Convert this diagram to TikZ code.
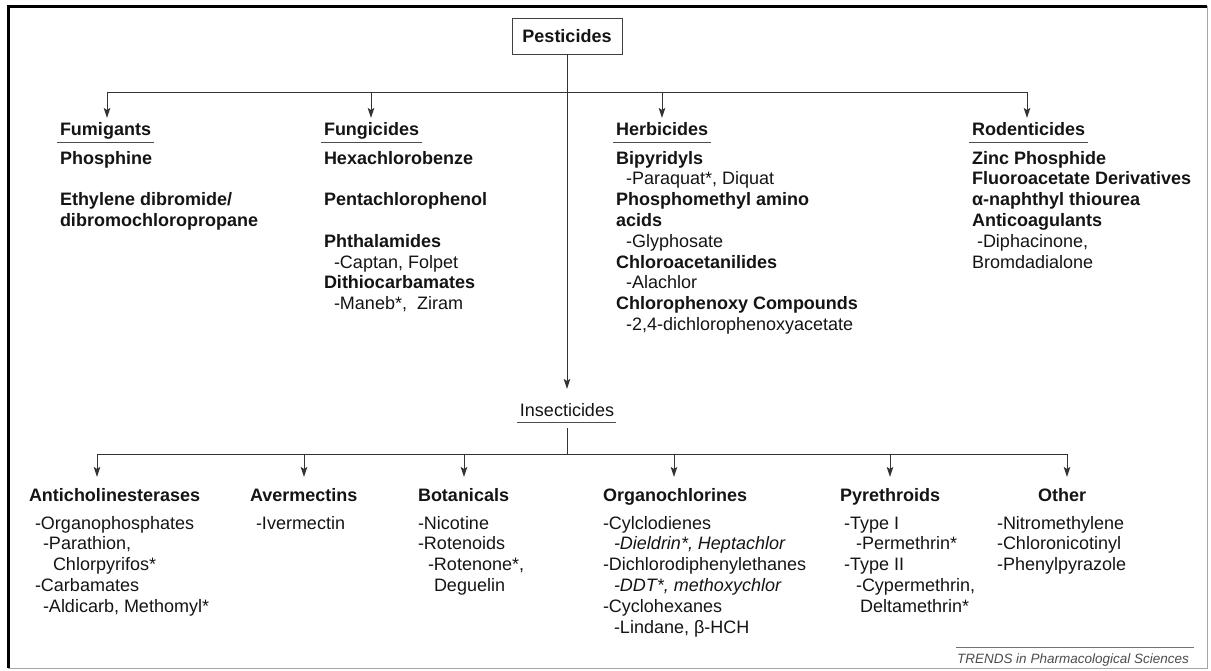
\documentclass[tikz,border=0pt]{standalone}
\usepackage{fontspec}
\setmainfont{Liberation Sans}
\usetikzlibrary{arrows.meta}
\newcommand\fs{\rule{0pt}{14pt}}
\begin{document}
\begin{tikzpicture}[x=1pt,y=-1pt,
  every node/.style={inner sep=0pt, outer sep=0pt, text=black!92},
  txt/.style={font=\fontsize{18}{20.8}\selectfont},
  hd/.style={anchor=base west, font=\fontsize{18}{20.8}\selectfont\bfseries},
  blk/.style={anchor=north west, align=left, font=\fontsize{18}{20.8}\selectfont},
  ln/.style={draw=black!80, line width=1pt},
  arr/.style={ln, -{Stealth[length=10pt,width=6.5pt,inset=2pt]}},
  ul/.style={draw=black!70, line width=1pt},
]
\useasboundingbox (0,0) rectangle (1211,670);
% frame
\draw[black!35, line width=1pt] (1207,6) -- (1207,668) -- (8,668);
\draw[black, line width=3pt] (8,668) -- (8,6) -- (1207,6);

% root
\node[draw=black!75, line width=1pt, minimum width=110pt, minimum height=36pt,
      font=\fontsize{18}{20.8}\selectfont\bfseries] (pest) at (567,36) {Pesticides};

% top bus
\coordinate (b1) at (107,92);
\coordinate (b2) at (371,92);
\coordinate (b3) at (662,92);
\coordinate (b4) at (1027,92);
\draw[ln] (b1) -- (b4);

% top headings
\node[hd] (fum) at (60,135) {Fumigants};
\node[hd] (fun) at (324,135) {Fungicides};
\node[hd] (her) at (616,135) {Herbicides};
\node[hd] (rod) at (972,135) {Rodenticides};
\foreach \n in {fum,fun,her,rod}{
  \draw[ul] ([shift={(-3pt,-7pt)}]\n.base west) -- ([shift={(3pt,-7pt)}]\n.base east);
}
\draw[arr, shorten >=4pt] (b1) -- (b1 |- fum.north);
\draw[arr, shorten >=4pt] (b2) -- (b2 |- fun.north);
\draw[arr, shorten >=4pt] (b3) -- (b3 |- her.north);
\draw[arr, shorten >=4pt] (b4) -- (b4 |- rod.north);

% top blocks
\node[blk] (fumL) at (60,150) {\fs\textbf{Phosphine}\\[20.8pt]
  \textbf{Ethylene dibromide/}\\
  \textbf{dibromochloropropane}};
\node[blk] (funL) at (324,150) {\fs\textbf{Hexachlorobenze}\\[20.8pt]
  \textbf{Pentachlorophenol}\\[20.8pt]
  \textbf{Phthalamides}\\
  \hspace*{10pt}-Captan, Folpet\\
  \textbf{Dithiocarbamates}\\
  \hspace*{10pt}-Maneb*,\ \ Ziram};
\node[blk] (herL) at (616,150) {\fs\textbf{Bipyridyls}\\
  \hspace*{10pt}-Paraquat*, Diquat\\
  \textbf{Phosphomethyl amino}\\
  \textbf{acids}\\
  \hspace*{10pt}-Glyphosate\\
  \textbf{Chloroacetanilides}\\
  \hspace*{10pt}-Alachlor\\
  \textbf{Chlorophenoxy Compounds}\\
  \hspace*{10pt}-2,4-dichlorophenoxyacetate};
\node[blk] (rodL) at (972,150) {\fs\textbf{Zinc Phosphide}\\
  \textbf{Fluoroacetate Derivatives}\\
  \textbf{α-naphthyl thiourea}\\
  \textbf{Anticoagulants}\\
  \hspace*{5pt}-Diphacinone,\\
  Bromdadialone};

% insecticides
\node[txt, anchor=base] (ins) at (567,416) {Insecticides};
\draw[arr, shorten >=14pt] (pest.south) -- (ins.north);
\draw[ul] ([shift={(-3pt,-6pt)}]ins.base west) -- ([shift={(2pt,-6pt)}]ins.base east);
\coordinate (ib) at (567,454);
\draw[ln] ([yshift=-12pt]ins.base) -- (ib);

% bottom bus
\coordinate (c1) at (97,454);
\coordinate (c2) at (304,454);
\coordinate (c3) at (464,454);
\coordinate (c4) at (674,454);
\coordinate (c5) at (890,454);
\coordinate (c6) at (1067,454);
\draw[ln] (c1) -- (c6);

\node[hd] (ach) at (29,501) {Anticholinesterases};
\node[hd] (ave) at (250,501) {Avermectins};
\node[hd] (bot) at (418,501) {Botanicals};
\node[hd] (orc) at (603,501) {Organochlorines};
\node[hd] (pyr) at (840,501) {Pyrethroids};
\node[hd] (oth) at (1038,501) {Other};
\draw[arr, shorten >=11pt] (c1) -- (c1 |- ach.north);
\draw[arr, shorten >=11pt] (c2) -- (c2 |- ave.north);
\draw[arr, shorten >=11pt] (c3) -- (c3 |- bot.north);
\draw[arr, shorten >=11pt] (c4) -- (c4 |- orc.north);
\draw[arr, shorten >=11pt] (c5) -- (c5 |- pyr.north);
\draw[arr, shorten >=11pt] (c6) -- (c6 |- oth.north);

\node[blk] (achL) at (35,515) {\fs-Organophosphates\\
  \hspace*{8pt}-Parathion,\\
  \hspace*{18pt}Chlorpyrifos*\\
  -Carbamates\\
  \hspace*{8pt}-Aldicarb, Methomyl*};
\node[blk] (aveL) at (256,515) {\fs-Ivermectin};
\node[blk] (botL) at (418,515) {\fs-Nicotine\\
  -Rotenoids\\
  \hspace*{10pt}-Rotenone*,\\
  \hspace*{16pt}Deguelin};
\node[blk] (orcL) at (603,515) {\fs-Cylclodienes\\
  \hspace*{11pt}\textit{-Dieldrin*, Heptachlor}\\
  -Dichlorodiphenylethanes\\
  \hspace*{11pt}\textit{-DDT*, methoxychlor}\\
  -Cyclohexanes\\
  \hspace*{11pt}-Lindane, β-HCH};
\node[blk] (pyrL) at (844,515) {\fs-Type I\\
  \hspace*{12pt}-Permethrin*\\
  -Type II\\
  \hspace*{12pt}-Cypermethrin,\\
  \hspace*{16pt}Deltamethrin*};
\node[blk] (othL) at (997,515) {\fs-Nitromethylene\\
  -Chloronicotinyl\\
  -Phenylpyrazole};

% credit
\node[anchor=base west, font=\fontsize{13.5}{16}\selectfont\itshape, text=black!70] (tr) at (957,663)
  {TRENDS in Pharmacological Sciences};
\draw[black!55, line width=0.8pt] ([shift={(-1pt,6pt)}]tr.north west) -- ([shift={(5pt,6pt)}]tr.north east);
\end{tikzpicture}
\end{document}
